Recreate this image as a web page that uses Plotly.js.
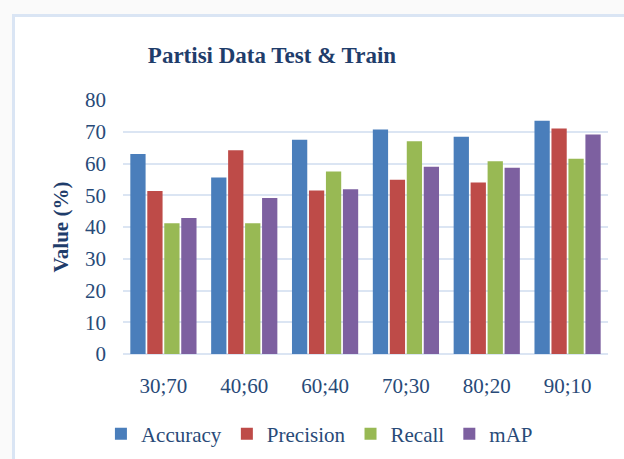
<!DOCTYPE html>
<html><head><meta charset="utf-8">
<script src="https://cdn.plot.ly/plotly-3.0.1.min.js"></script>
<style>
html,body{margin:0;padding:0;background:#fafafa;width:624px;height:459px;overflow:hidden;}
#frame{position:absolute;left:12px;top:14px;width:620px;height:450px;background:#fff;border-left:3px solid #dae5f4;border-top:3px solid #dae5f4;}
#chart{position:absolute;left:0;top:0;width:624px;height:459px;}
</style></head>
<body>
<div id="frame"></div>
<div id="chart"></div>
<script>
const categories = ["30;70","40;60","60;40","70;30","80;20","90;10"];
const accuracy  = [63.0, 55.6, 67.5, 70.7, 68.4, 73.5];
const precision = [51.3, 64.2, 51.5, 54.9, 54.0, 71.0];
const recall    = [41.2, 41.2, 57.5, 67.0, 60.7, 61.5];
const mAP       = [42.8, 49.1, 51.9, 59.0, 58.7, 69.1];
const seriesNames = ["Accuracy","Precision","Recall","mAP"];
const seriesColors = ["#4a7ebb","#be4b48","#98b954","#7d60a0"];
const seriesValues = [accuracy, precision, recall, mAP];

const font = "Liberation Serif, Times New Roman, serif";
const textColor = "#284a78";

const traces = seriesValues.map((v,i)=>({
  type:"bar", name:seriesNames[i], x:categories, y:v,
  marker:{color:seriesColors[i], line:{width:0}},
  hoverinfo:"x+y+name"
}));

const layout = {
  width:624, height:459,
  margin:{l:123, r:16, t:100, b:105, autoexpand:false},
  paper_bgcolor:"rgba(0,0,0,0)", plot_bgcolor:"rgba(0,0,0,0)",
  barmode:"group", bargap:0.16, bargroupgap:0.1,
  title:{text:"<b>Partisi Data Test & Train</b>", xref:"container", x:272/624, xanchor:"center",
         yref:"container", y:1-55/459, yanchor:"middle",
         font:{family:font, size:23, color:"#1f3d6b"}},
  xaxis:{tickfont:{family:font, size:21, color:textColor}, showline:false, ticks:"", showgrid:false, zeroline:false,
         ticklabelstandoff:17},
  yaxis:{range:[0,80], dtick:10, tickfont:{family:font, size:21, color:textColor},
         gridcolor:"#dbe5f3", gridwidth:2, zeroline:true, zerolinecolor:"#dbe5f3", zerolinewidth:2,
         showline:false, ticks:"", ticklen:0, automargin:false, ticklabelstandoff:16,
         title:{text:"<b>Value (%)</b>", font:{family:font, size:21, color:"#1f3d6b"}, standoff:10}},
  showlegend:true,
  legend:{orientation:"h", x:0.405, xanchor:"center", y:-0.315, yanchor:"middle",
          font:{family:font, size:21, color:textColor}, itemwidth:30, traceorder:"normal"}
};
Plotly.newPlot("chart", traces, layout, {displayModeBar:false, staticPlot:true});
</script>
</body></html>
